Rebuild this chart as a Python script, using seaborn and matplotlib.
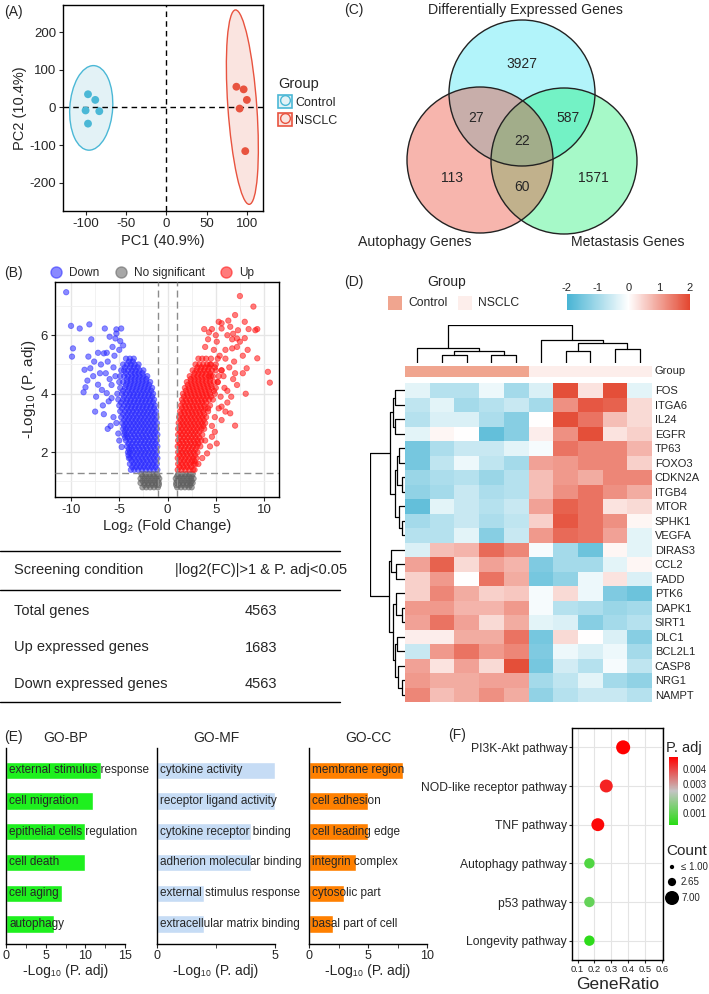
import numpy
import pandas
import matplotlib
matplotlib.use("Agg")
import matplotlib.pyplot as pyplot
import seaborn
from matplotlib.patches import Ellipse, Circle, Patch, Rectangle
from matplotlib.lines import Line2D
from matplotlib.colors import LinearSegmentedColormap, ListedColormap, Normalize
from matplotlib.cm import ScalarMappable
from matplotlib.legend_handler import HandlerTuple

# style
seaborn.set_style("white")
pyplot.rcParams["font.family"] = ["Liberation Sans", "DejaVu Sans"]
pyplot.rcParams["font.size"] = 8
pyplot.rcParams["axes.linewidth"] = 1.0
pyplot.rcParams["axes.edgecolor"] = "black"
pyplot.rcParams["axes.unicode_minus"] = False

#
# data
#

# (A) PCA
ctrl_pc1 = [-97, -88, -100, -83, -97]
ctrl_pc2 = [35, 20, -8, -10, -43]
nsclc_pc1 = [87, 96, 100, 91, 98]
nsclc_pc2 = [55, 48, 20, -3, -116]

# (B) volcano: dense rows (y, xs) and sparse points
down_rows = [
    (1.40, [-1.05, -1.45, -1.85, -2.25, -2.65, -3.05, -3.45, -3.8]),
    (1.50, [-1.25, -1.65, -2.05, -2.45, -2.85, -3.25, -3.65]),
    (1.60, [-1.1, -1.5, -1.9, -2.3, -2.7, -3.1, -3.5, -3.9]),
    (1.70, [-1.3, -1.7, -2.1, -2.5, -2.9, -3.3, -3.7]),
    (1.80, [-1.05, -1.45, -1.85, -2.25, -2.65, -3.05, -3.45, -3.85, -4.0]),
    (1.90, [-1.25, -1.65, -2.05, -2.45, -2.85, -3.25, -3.65, -4.05]),
    (2.00, [-1.1, -1.5, -1.9, -2.3, -2.7, -3.1, -3.5, -3.9, -4.1]),
    (2.10, [-1.3, -1.7, -2.1, -2.5, -2.9, -3.3, -3.7, -4.0]),
    (2.20, [-1.05, -1.45, -1.85, -2.25, -2.65, -3.05, -3.45, -3.85, -4.2]),
    (2.30, [-1.25, -1.65, -2.05, -2.45, -2.85, -3.25, -3.65, -4.05]),
    (2.40, [-1.1, -1.5, -1.9, -2.3, -2.7, -3.1, -3.5, -3.9, -4.3]),
    (2.50, [-1.3, -1.7, -2.1, -2.5, -2.9, -3.3, -3.7, -4.1, -4.4]),
    (2.60, [-1.05, -1.45, -1.85, -2.25, -2.65, -3.05, -3.45, -3.85, -4.25, -4.5]),
    (2.70, [-1.25, -1.65, -2.05, -2.45, -2.85, -3.25, -3.65, -4.05, -4.45]),
    (2.80, [-1.1, -1.5, -1.9, -2.3, -2.7, -3.1, -3.5, -3.9, -4.3, -4.6]),
    (2.90, [-1.3, -1.7, -2.1, -2.5, -2.9, -3.3, -3.7, -4.1, -4.5]),
    (3.00, [-1.1, -1.5, -1.9, -2.3, -2.7, -3.1, -3.5, -3.9, -4.3, -4.7]),
    (3.10, [-1.3, -1.7, -2.1, -2.5, -2.9, -3.3, -3.7, -4.1, -4.5]),
    (3.20, [-1.15, -1.55, -1.95, -2.35, -2.75, -3.15, -3.55, -3.95, -4.35, -4.8]),
    (3.30, [-1.35, -1.75, -2.15, -2.55, -2.95, -3.35, -3.75, -4.15, -4.6]),
    (3.40, [-1.2, -1.6, -2.0, -2.4, -2.8, -3.2, -3.6, -4.0, -4.4, -4.9]),
    (3.50, [-1.4, -1.8, -2.2, -2.6, -3.0, -3.4, -3.8, -4.2, -4.7]),
    (3.60, [-1.3, -1.7, -2.1, -2.5, -2.9, -3.3, -3.7, -4.1, -4.5, -5.0]),
    (3.70, [-1.5, -1.9, -2.3, -2.7, -3.1, -3.5, -3.9, -4.3, -4.8]),
    (3.80, [-1.4, -1.8, -2.2, -2.6, -3.0, -3.4, -3.8, -4.2, -4.6, -5.1]),
    (3.90, [-1.6, -2.0, -2.4, -2.8, -3.2, -3.6, -4.0, -4.5]),
    (4.00, [-1.5, -1.9, -2.3, -2.7, -3.1, -3.5, -3.9, -4.3, -4.7, -5.2]),
    (4.10, [-1.7, -2.1, -2.5, -2.9, -3.3, -3.7, -4.1, -4.6]),
    (4.20, [-1.6, -2.0, -2.4, -2.8, -3.2, -3.6, -4.0, -4.4, -4.9]),
    (4.30, [-1.9, -2.3, -2.7, -3.1, -3.5, -3.9, -4.3]),
    (4.40, [-1.8, -2.2, -2.6, -3.0, -3.4, -3.8, -4.2, -4.6, -5.0]),
    (4.50, [-2.2, -2.6, -3.0, -3.4, -3.8, -4.2]),
    (4.60, [-2.1, -2.5, -2.9, -3.3, -3.7, -4.1, -4.5, -4.9]),
    (4.70, [-2.6, -3.0, -3.4, -3.8, -4.3]),
    (4.80, [-2.5, -2.9, -3.3, -3.7, -4.1, -4.5, -4.8]),
    (4.90, [-3.1, -3.5, -3.9, -4.4]),
    (5.00, [-3.0, -3.4, -3.8, -4.2, -4.6]),
    (5.10, [-3.6, -4.0]),
    (5.20, [-3.5, -3.9, -4.3]),
]
up_rows = [
    (1.40, [1.05, 1.45, 1.85, 2.25, 2.65, 2.8]),
    (1.50, [1.25, 1.65, 2.05, 2.45]),
    (1.60, [1.1, 1.5, 1.9, 2.3, 2.7, 2.9]),
    (1.70, [1.3, 1.7, 2.1, 2.5, 2.8]),
    (1.80, [1.05, 1.45, 1.85, 2.25, 2.65, 3.0]),
    (1.90, [1.25, 1.65, 2.05, 2.45, 2.85]),
    (2.00, [1.1, 1.5, 1.9, 2.3, 2.7, 3.1]),
    (2.10, [1.3, 1.7, 2.1, 2.5, 2.9]),
    (2.20, [1.05, 1.45, 1.85, 2.25, 2.65, 3.05, 3.4]),
    (2.30, [1.25, 1.65, 2.05, 2.45, 2.85, 3.2]),
    (2.40, [1.1, 1.5, 1.9, 2.3, 2.7, 3.1, 3.5]),
    (2.50, [1.3, 1.7, 2.1, 2.5, 2.9, 3.3]),
    (2.60, [1.1, 1.5, 1.9, 2.3, 2.7, 3.1, 3.6]),
    (2.70, [1.3, 1.7, 2.1, 2.5, 2.9, 3.3]),
    (2.80, [1.1, 1.5, 1.9, 2.3, 2.7, 3.1, 3.5, 3.8]),
    (2.90, [1.3, 1.7, 2.1, 2.5, 2.9, 3.3, 3.7]),
    (3.00, [1.15, 1.55, 1.95, 2.35, 2.75, 3.15, 3.55, 3.9]),
    (3.10, [1.35, 1.75, 2.15, 2.55, 2.95, 3.35, 3.75]),
    (3.20, [1.2, 1.6, 2.0, 2.4, 2.8, 3.2, 3.6, 4.0]),
    (3.30, [1.4, 1.8, 2.2, 2.6, 3.0, 3.4, 3.8]),
    (3.40, [1.3, 1.7, 2.1, 2.5, 2.9, 3.3, 3.7, 4.2]),
    (3.50, [1.5, 1.9, 2.3, 2.7, 3.1, 3.5, 3.9]),
    (3.60, [1.4, 1.8, 2.2, 2.6, 3.0, 3.4, 3.8, 4.4]),
    (3.70, [1.6, 2.0, 2.4, 2.8, 3.2, 3.6, 4.0]),
    (3.80, [1.5, 1.9, 2.3, 2.7, 3.1, 3.5, 3.9, 4.3, 4.7]),
    (3.90, [1.7, 2.1, 2.5, 2.9, 3.3, 3.7, 4.1, 4.5]),
    (4.00, [1.6, 2.0, 2.4, 2.8, 3.2, 3.6, 4.0, 4.4, 4.9]),
    (4.10, [1.9, 2.3, 2.7, 3.1, 3.5, 3.9, 4.3]),
    (4.20, [1.8, 2.2, 2.6, 3.0, 3.4, 3.8, 4.2, 4.6, 5.0]),
    (4.30, [2.1, 2.5, 2.9, 3.3, 3.7, 4.1, 4.5]),
    (4.40, [2.0, 2.4, 2.8, 3.2, 3.6, 4.0, 4.4, 4.8, 5.2]),
    (4.50, [2.4, 2.8, 3.2, 3.6, 4.0, 4.4]),
    (4.60, [2.3, 2.7, 3.1, 3.5, 3.9, 4.3, 4.7, 5.3]),
    (4.70, [2.8, 3.2, 3.6, 4.0, 4.4]),
    (4.80, [2.6, 3.0, 3.4, 3.8, 4.2, 4.6, 5.0, 5.6]),
    (4.90, [3.1, 3.5, 3.9, 4.3]),
    (5.00, [2.9, 3.3, 3.7, 4.1, 4.5, 5.0]),
    (5.20, [3.2, 3.6, 4.0, 4.5, 5.2]),
]
ns_rows = [
    (0.80, [-2.6, -2.2, -1.8, -1.4, -1.0, 1.0, 1.4, 1.8, 2.2, 2.5]),
    (0.88, [-2.4, -2.0, -1.6, -1.2, -0.9, 0.9, 1.2, 1.6, 2.0, 2.35]),
    (0.95, [-2.8, -2.4, -2.0, -1.6, -1.2, -0.9, 0.9, 1.2, 1.6, 2.0, 2.4, 2.6]),
    (1.02, [-2.6, -2.2, -1.8, -1.4, -1.0, 1.0, 1.4, 1.8, 2.2, 2.5]),
    (1.10, [-2.8, -2.4, -2.0, -1.6, -1.2, -0.85, 0.85, 1.2, 1.6, 2.0, 2.4, 2.7]),
    (1.18, [-2.6, -2.2, -1.8, -1.4, -1.0, 1.0, 1.4, 1.8, 2.2, 2.5]),
    (1.25, [-2.7, -2.3, -1.9, -1.5, -1.1, 1.1, 1.5, 1.9, 2.3, 2.6]),
]
down_sparse = [
    (-10.5, 7.47), (-10.0, 6.32), (-9.1, 6.23), (-8.1, 6.37), (-6.5, 6.23),
    (-5.3, 6.2), (-4.8, 6.23), (-5.3, 6.06), (-4.6, 5.65), (-7.9, 5.86),
    (-9.8, 5.55), (-9.9, 5.27), (-8.2, 5.27), (-7.2, 5.4), (-6.6, 5.38),
    (-6.3, 5.4), (-6.0, 5.95), (-5.4, 5.89), (-8.6, 4.82), (-8.0, 4.87),
    (-8.5, 4.22), (-8.7, 4.05), (-7.5, 3.39), (-7.2, 4.31), (-6.8, 4.13),
    (-6.3, 4.02), (-6.1, 3.74), (-5.8, 3.85), (-5.1, 2.64), (-7.7, 4.6),
    (-7.0, 4.7), (-6.0, 4.5), (-5.6, 3.2), (-6.7, 3.6), (-5.9, 2.9),
    (-5.5, 5.3), (-4.75, 2.18), (-5.6, 4.9), (-6.2, 5.1),
    (-5.4, 4.6), (-5.8, 4.3), (-6.4, 4.7), (-5.7, 5.6), (-5.0, 5.5),
    (-6.9, 5.0), (-7.4, 3.9), (-6.6, 3.3), (-5.3, 3.0), (-5.0, 2.4),
    (-6.2, 2.8), (-4.9, 5.8), (-7.6, 5.1), (-8.3, 4.45),
]
up_sparse = [
    (7.5, 7.34), (8.9, 6.98), (7.0, 6.69), (5.3, 6.46), (5.6, 6.41),
    (3.8, 6.21), (4.6, 6.21), (5.6, 6.23), (6.5, 6.29), (7.3, 6.17),
    (8.4, 6.21), (9.1, 6.17), (9.3, 6.21), (8.0, 6.46), (6.2, 6.0),
    (6.8, 6.05), (4.2, 5.86), (5.1, 5.78), (6.7, 5.86), (7.2, 5.89),
    (7.5, 5.78), (6.7, 5.55), (7.2, 5.6), (8.3, 5.5), (9.3, 5.21),
    (8.2, 4.87), (7.8, 4.7), (7.0, 4.7), (10.4, 4.75), (10.6, 4.38),
    (8.1, 4.0), (7.2, 4.3), (6.8, 4.5), (5.6, 3.56), (6.0, 3.39),
    (6.5, 3.33), (7.0, 2.91), (5.1, 2.3), (4.6, 2.53), (4.1, 1.96),
    (6.0, 5.2), (6.4, 4.9), (5.8, 4.6), (6.2, 4.1), (5.5, 3.9),
    (4.9, 3.2), (4.6, 2.9), (3.9, 2.4), (3.6, 1.8), (3.2, 1.6),
    (4.8, 4.1), (5.2, 4.4), (5.6, 4.8), (6.0, 5.5), (5.4, 5.3),
    (4.8, 5.5), (4.4, 5.0), (5.9, 4.2), (6.6, 3.9), (5.3, 3.5),
    (4.9, 2.7), (4.4, 2.2), (5.6, 3.1), (6.2, 3.7), (4.2, 3.5),
    (4.5, 4.6), (3.9, 5.6), (4.3, 6.1), (7.8, 5.3), (8.0, 5.9),
    (6.9, 5.1), (5.0, 6.0), (6.3, 6.5), (4.9, 4.9),
]

# table under (B)
table_rows = ["Total genes", "Up expressed genes", "Down expressed genes"]
table_values = ["4563", "1683", "4563"]

# (C) venn counts
venn_sets = ["Differentially Expressed Genes", "Autophagy Genes", "Metastasis Genes"]
venn_counts = {"D": 3927, "A": 113, "M": 1571, "DA": 27, "DM": 587, "AM": 60, "DAM": 22}

# (D) heatmap
genes = ["FOS", "ITGA6", "IL24", "EGFR", "TP63", "FOXO3", "CDKN2A", "ITGB4", "MTOR",
         "SPHK1", "VEGFA", "DIRAS3", "CCL2", "FADD", "PTK6", "DAPK1", "SIRT1", "DLC1",
         "BCL2L1", "CASP8", "NRG1", "NAMPT"]
sample_groups = ["Control"] * 5 + ["NSCLC"] * 5
heat_values = [
    [-0.3, -0.8, -0.8, -0.2, -1.0, -0.4, 1.9, 0.3, 1.9, -0.3],
    [-0.7, -0.3, -1.0, -0.8, -0.6, -1.0, 1.2, 1.8, 1.7, 0.4],
    [-0.8, -0.4, -0.4, -0.9, -1.3, 0.0, 1.9, 1.5, 0.7, 0.4],
    [-0.3, 0.1, 0.0, -1.7, -1.3, 0.2, 1.2, 1.9, 0.3, 0.5],
    [-1.5, -0.9, -0.6, -0.6, -0.3, -0.1, 1.5, 1.3, 1.3, 0.8],
    [-1.5, -0.7, -0.2, -0.7, -1.0, 1.0, 1.1, 1.3, 1.3, 0.5],
    [-1.1, -0.9, -0.8, -1.1, -0.8, 0.7, 1.1, 0.9, 1.3, 1.3],
    [-1.2, -1.0, -0.6, -0.9, -0.8, 0.7, 1.2, 1.5, 1.2, 0.9],
    [-1.7, -0.3, -0.6, -0.8, -0.6, 1.0, 1.7, 1.5, 0.3, 0.4],
    [-1.0, -0.8, -0.6, -0.9, -0.7, 0.5, 1.8, 1.5, 1.2, 0.1],
    [-0.8, -0.8, -0.3, -1.3, -0.6, 1.1, 1.6, 1.5, 1.0, -0.3],
    [-0.4, 0.7, 0.8, 1.6, 1.3, -0.1, -1.0, -1.6, 0.1, -0.3],
    [1.0, 1.7, 0.4, 1.0, 0.8, -1.4, -1.0, -1.0, -0.3, 0.1],
    [0.5, 1.1, 0.0, 1.5, 0.9, -1.5, -1.2, -0.2, 0.3, -0.4],
    [0.5, 1.3, 0.9, 0.5, 0.6, -0.1, 0.4, -0.2, -1.4, -1.6],
    [1.1, 1.1, 0.8, 0.8, 1.1, -0.1, -0.8, -0.9, -1.1, -1.0],
    [1.0, 1.5, 1.0, 0.4, 0.9, -0.3, -0.4, -1.3, -1.0, -0.8],
    [0.2, 0.2, 0.9, 0.9, 1.5, -1.5, 0.4, 0.0, -0.4, -1.3],
    [-0.6, 1.1, 1.5, 1.1, 1.3, -1.4, -0.2, -0.4, -0.2, -1.0],
    [1.0, 0.3, 1.0, 0.4, 1.9, -1.5, -0.5, -0.8, -0.1, -0.7],
    [1.1, 0.9, 0.9, 1.0, 1.0, -1.0, -0.7, -0.3, -1.0, -1.2],
    [1.3, 0.7, 0.9, 1.2, 0.9, -1.2, -0.8, -0.6, -0.6, -0.8],
]
# dendrograms as (left, right, height); ints are leaves
col_tree = ((0, ((1, 2, 25), (3, 4, 25), 36), 43), (5, ((6, 7, 36), (8, 9, 40), 60), 68), 111)
row_tree = (
    (((0, 1, 2.8), (2, 3, 2.8), 3.6),
     (((4, 5, 1.6), (6, 7, 0.8), 2.2), (8, (9, 10, 0.8), 1.8), 2.8), 4.2),
    ((11, (12, 13, 2.6), 4.0),
     ((14, (15, 16, 1.0), 2.6), ((17, 18, 2.4), (19, (20, 21, 1.0), 2.0), 3.0), 3.6), 4.6),
    10,
)

# (E) GO enrichment
bp_terms = ["external stimulus response", "cell migration", "epithelial cells regulation",
            "cell death", "cell aging", "autophagy"]
bp_values = [12, 11, 10, 10, 7, 6]
mf_terms = ["cytokine activity", "receptor ligand activity", "cytokine receptor binding",
            "adherion molecular binding", "external stimulus response",
            "extracellular matrix binding"]
mf_values = [5, 5, 4, 4, 2, 2]
cc_terms = ["membrane region", "cell adhesion", "cell leading edge", "integrin complex",
            "cytosolic part", "basal part of cell"]
cc_values = [8, 5, 5, 4, 3, 2]

# (F) KEGG dot plot
pathways = ["PI3K-Akt pathway", "NOD-like receptor pathway", "TNF pathway",
            "Autophagy pathway", "p53 pathway", "Longevity pathway"]
gene_ratio = [0.37, 0.27, 0.22, 0.17, 0.17, 0.17]
padj = [0.0048, 0.0044, 0.0047, 0.0008, 0.0011, 0.0003]
counts = [7, 6, 6, 4, 4, 4]

#
# figure
#

W, H = 709, 994
fig = pyplot.figure(figsize=(W / 100, H / 100), dpi=100)


def box(l, t, r, b):
    return [l / W, 1 - b / H, (r - l) / W, (b - t) / H]


# overlay in pixel coordinates for texts, table and venn
ov = fig.add_axes([0, 0, 1, 1])
ov.set_xlim(0, W)
ov.set_ylim(H, 0)
ov.axis("off")

for lab, x, y in [("(A)", 4, 12), ("(B)", 4, 273), ("(C)", 344, 10),
                  ("(D)", 344, 282), ("(E)", 4, 737), ("(F)", 448, 735)]:
    ov.text(x, y, lab, fontsize=10, va="center", ha="left")

#
# (A) PCA
#

ctrl_col, nsclc_col = "#4bb8d6", "#e8533f"
axA = fig.add_axes(box(63, 5, 263, 211))
pca = pandas.DataFrame({
    "PC1": ctrl_pc1 + nsclc_pc1,
    "PC2": ctrl_pc2 + nsclc_pc2,
    "Group": ["Control"] * len(ctrl_pc1) + ["NSCLC"] * len(nsclc_pc1),
})
for grp, col, fill in [("Control", ctrl_col, "#e3f2f6"), ("NSCLC", nsclc_col, "#fae4e0")]:
    sub = pca[pca["Group"] == grp]
    cov = numpy.cov(sub["PC1"], sub["PC2"])
    vals, vecs = numpy.linalg.eigh(cov)
    scale = numpy.sqrt(2 * 6.944)  # 95% level, F(2, n-1)
    angle = numpy.degrees(numpy.arctan2(vecs[1, 1], vecs[0, 1]))
    ell = Ellipse((sub["PC1"].mean(), sub["PC2"].mean()),
                  2 * scale * numpy.sqrt(vals[1]), 2 * scale * numpy.sqrt(vals[0]),
                  angle=angle, facecolor=fill, edgecolor=col, lw=1.0, zorder=1)
    axA.add_patch(ell)
axA.axhline(0, color="black", ls=(0, (4, 3)), lw=1, zorder=2)
axA.axvline(0, color="black", ls=(0, (4, 3)), lw=1, zorder=2)
seaborn.scatterplot(data=pca, x="PC1", y="PC2", hue="Group",
                    palette={"Control": ctrl_col, "NSCLC": nsclc_col},
                    s=32, edgecolor="none", legend=False, ax=axA, zorder=3)
axA.set_xlim(-128, 120)
axA.set_ylim(-275, 272)
axA.set_xticks([-100, -50, 0, 50, 100])
axA.set_yticks([-200, -100, 0, 100, 200])
axA.tick_params(labelsize=9.5, length=3, direction="out", left=True, bottom=True, pad=2)
axA.set_xlabel("PC1 (40.9%)", fontsize=10.5, labelpad=3)
axA.set_ylabel("PC2 (10.4%)", fontsize=10.5, labelpad=2)
handles = [
    (Patch(facecolor="#e3f2f6", edgecolor=ctrl_col, lw=1.2),
     Line2D([], [], marker="o", ls="", mfc="none", mec=ctrl_col, ms=7)),
    (Patch(facecolor="#fae4e0", edgecolor=nsclc_col, lw=1.2),
     Line2D([], [], marker="o", ls="", mfc="none", mec=nsclc_col, ms=7)),
]
leg = axA.legend(handles, ["Control", "NSCLC"], title="Group", loc="center left",
                 bbox_to_anchor=(1.02, 0.53), frameon=False,
                 handler_map={tuple: HandlerTuple(ndivide=1, pad=0)},
                 handlelength=1.1, handleheight=1.3, handletextpad=0.25,
                 labelspacing=0.3, fontsize=9, title_fontsize=10.5)
leg._legend_box.align = "left"

#
# (B) volcano
#


def expand(rows, label):
    out = []
    for y, xs in rows:
        for x in xs:
            out.append((x, y, label))
    return out


points = (expand(down_rows, "Down") + [(x, y, "Down") for x, y in down_sparse]
          + expand(ns_rows, "No significant")
          + expand(up_rows, "Up") + [(x, y, "Up") for x, y in up_sparse])
volcano = pandas.DataFrame(points, columns=["log2FC", "logP", "Change"])
change_pal = {"Down": "#2a2aff", "No significant": "#606060", "Up": "#ff1010"}

axB = fig.add_axes(box(55, 282, 279, 497))
axB.set_axisbelow(True)
axB.set_xticks([-7.5, -2.5, 2.5, 7.5], minor=True)
axB.set_yticks([1, 3, 5, 7], minor=True)
axB.grid(True, which="major", color="#e6e6e6", lw=1.0)
axB.grid(True, which="minor", color="#f0f0f0", lw=0.6)
seaborn.scatterplot(data=volcano, x="log2FC", y="logP", hue="Change", palette=change_pal,
                    s=15, alpha=0.55, linewidth=0.6, edgecolor="face", legend=False,
                    ax=axB, zorder=2)
axB.axvline(-1, color="#8c8c8c", ls=(0, (5, 3)), lw=1, zorder=3)
axB.axvline(1, color="#8c8c8c", ls=(0, (5, 3)), lw=1, zorder=3)
axB.axhline(1.3, color="#8c8c8c", ls=(0, (5, 3)), lw=1, zorder=3)
axB.set_xlim(-11.66, 11.55)
axB.set_ylim(0.47, 7.82)
axB.set_xticks([-10, -5, 0, 5, 10])
axB.set_yticks([2, 4, 6])
axB.tick_params(which="major", labelsize=9.5, length=3, direction="out", left=True,
                bottom=True, pad=2)
axB.tick_params(which="minor", length=0)
axB.set_xlabel("Log\u2082 (Fold Change)", fontsize=10.5, labelpad=2)
axB.set_ylabel("-Log$_{10}$ (P. adj)", fontsize=11, labelpad=2)
vol_handles = [Line2D([], [], marker="o", ls="", ms=8, mfc=change_pal[k], mec=change_pal[k],
                      alpha=0.55) for k in change_pal]
axB.legend(vol_handles, list(change_pal), loc="lower center", bbox_to_anchor=(0.42, 0.985),
           ncol=3, frameon=False, handletextpad=0.1, columnspacing=0.8, fontsize=8.5,
           borderaxespad=0.1)

#
# table
#

for y in [551, 590, 702]:
    ov.plot([0, 340], [y, y], color="black", lw=1.0)
ov.text(14, 570, "Screening condition", fontsize=10.5, va="center")
ov.text(175, 570, "|log2(FC)|>1 & P. adj<0.05", fontsize=10.5, va="center")
for i, (name, val) in enumerate(zip(table_rows, table_values)):
    y = 611 + i * 36.5
    ov.text(14, y, name, fontsize=10.5, va="center")
    ov.text(261, y, val, fontsize=10.5, va="center", ha="center")

#
# (C) venn
#

r = 73
venn_geo = {"D": (522, 93), "A": (480, 160), "M": (564, 161)}
venn_fill = {"D": ((0, 220, 240), 0.3), "M": ((0, 240, 100), 0.35), "A": ((235, 70, 50), 0.4)}
for key in ["D", "M", "A"]:
    rgb, a = venn_fill[key]
    ov.add_patch(Circle(venn_geo[key], r, facecolor=numpy.array(rgb) / 255, alpha=a,
                        edgecolor="none"))
for key in ["D", "M", "A"]:
    ov.add_patch(Circle(venn_geo[key], r, facecolor="none", edgecolor="#222222", lw=1.0))
venn_text_pos = {"D": (522, 64), "DA": (476, 118), "DM": (568, 118), "DAM": (522, 141),
                 "A": (452, 178), "AM": (522, 187), "M": (593, 178)}
for key, (x, y) in venn_text_pos.items():
    ov.text(x, y, str(venn_counts[key]), fontsize=10, ha="center", va="center")
ov.text(525, 10, venn_sets[0], fontsize=10.2, ha="center", va="center")
ov.text(415, 242, venn_sets[1], fontsize=10.2, ha="center", va="center")
ov.text(628, 242, venn_sets[2], fontsize=10.2, ha="center", va="center")

#
# (D) heatmap
#

heat_cmap = LinearSegmentedColormap.from_list("bwr2", ["#48b4d4", "#ffffff", "#e3462f"])
grp_colors = {"Control": "#f0a58f", "NSCLC": "#fdeeeb"}
heat_df = pandas.DataFrame(heat_values, index=genes)

axD = fig.add_axes(box(405, 383, 652, 702))
seaborn.heatmap(heat_df, cmap=heat_cmap, vmin=-2, vmax=2, cbar=False, ax=axD,
                xticklabels=False, yticklabels=True)
axD.yaxis.tick_right()
axD.tick_params(axis="y", length=0, labelsize=8, pad=2)
for t in axD.get_yticklabels():
    t.set_rotation(0)

axG = fig.add_axes(box(405, 366, 652, 377))
grp_codes = [[0 if g == "Control" else 1 for g in sample_groups]]
seaborn.heatmap(pandas.DataFrame(grp_codes), cmap=ListedColormap(list(grp_colors.values())),
                vmin=0, vmax=1, cbar=False, ax=axG, xticklabels=False, yticklabels=False)
axG.text(1.01, 0.5, "Group", transform=axG.transAxes, fontsize=8, va="center")


def draw_tree(ax, node, orient):
    if isinstance(node, int):
        return node + 0.5, 0.0
    left, right, h = node
    p1, h1 = draw_tree(ax, left, orient)
    p2, h2 = draw_tree(ax, right, orient)
    if orient == "top":
        ax.plot([p1, p1, p2, p2], [h1, h, h, h2], color="black", lw=0.9)
    else:
        ax.plot([h1, h, h, h2], [p1, p1, p2, p2], color="black", lw=0.9)
    return (p1 + p2) / 2, h


axCD = fig.add_axes(box(405, 325, 652, 363))
draw_tree(axCD, col_tree, "top")
axCD.set_xlim(0, 10)
axCD.set_ylim(0, 112)
axCD.axis("off")

axRD = fig.add_axes(box(370, 383, 405, 702))
draw_tree(axRD, row_tree, "left")
axRD.set_ylim(22, 0)
axRD.set_xlim(10.1, 0)
axRD.axis("off")

# group legend + colour key
ov.text(447, 282, "Group", fontsize=10, ha="center", va="center")
for (name, col), x in zip(grp_colors.items(), [388, 458]):
    ov.add_patch(Rectangle((x, 296), 14, 14, facecolor=col, edgecolor="none"))
    ov.text(x + 20, 303, name, fontsize=8.7, va="center")
caxD = fig.add_axes(box(567, 294, 690, 310))
cbD = fig.colorbar(ScalarMappable(Normalize(-2, 2), heat_cmap), cax=caxD,
                   orientation="horizontal", ticks=[-2, -1, 0, 1, 2])
cbD.outline.set_visible(False)
caxD.xaxis.set_ticks_position("top")
caxD.tick_params(axis="x", direction="in", color="white", length=3, width=1,
                 labelsize=8, pad=1)

#
# (E) GO bars
#

go_panels = [
    ("GO-BP", bp_terms, bp_values, "#1ef01e", (6, 125), 15, [0, 5, 10, 15]),
    ("GO-MF", mf_terms, mf_values, "#c6dcf5", (157, 275), 5, [0, 5]),
    ("GO-CC", cc_terms, cc_values, "#ff8000", (309, 427), 10, [0, 5, 10]),
]
for title, terms, vals, col, (l, r_), xmax, ticks in go_panels:
    ax = fig.add_axes(box(l, 748, r_, 944))
    seaborn.barplot(x=vals, y=terms, orient="h", color=col, saturation=1, width=0.56, ax=ax)
    for i, term in enumerate(terms):
        ax.annotate(term, xy=(0, i), xytext=(2.5, 0), textcoords="offset points",
                    va="center", ha="left", fontsize=8.5)
    ax.set_ylim(5.65, -0.72)
    ax.set_xlim(0, xmax)
    ax.set_xticks(ticks)
    ax.set_xticks(numpy.arange(0, xmax + 0.01, 2.5), minor=True)
    ax.set_yticks([])
    ax.set_ylabel("")
    ax.spines[["top", "right"]].set_visible(False)
    ax.tick_params(axis="x", which="both", length=3, direction="out", labelsize=9,
                   bottom=True, pad=1)
    ax.set_xlabel("-Log\u2081\u2080 (P. adj)", fontsize=10, labelpad=2)
    ax.set_title(title, fontsize=10, pad=4)

#
# (F) KEGG dots
#

padj_cmap = LinearSegmentedColormap.from_list(
    "padj", [(0.0, "#28dc14"), (0.5, "#c4c4c4"), (1.0, "#ff0000")])
padj_norm = Normalize(0.0002, 0.0048)
axF = fig.add_axes(box(572, 728, 663, 960))
axF.set_axisbelow(True)
axF.grid(True, color="#e4e4e4", lw=0.8)
kegg = pandas.DataFrame({"ratio": gene_ratio, "pos": range(len(pathways)),
                         "padj": padj, "count": counts})
seaborn.scatterplot(data=kegg, x="ratio", y="pos", hue="padj", size="count",
                    palette=padj_cmap, hue_norm=padj_norm, sizes=(9.6, 102),
                    size_norm=(1, 7), edgecolor="none", legend=False, ax=axF, zorder=3)
axF.set_ylim(len(pathways) - 0.5, -0.5)
axF.set_yticks(range(len(pathways)))
axF.set_yticklabels(pathways)
axF.set_xlim(0.067, 0.606)
axF.set_xticks([0.1, 0.2, 0.3, 0.4, 0.5, 0.6])
axF.set_xticklabels(["0.1", "0.2", "0.3", "0.4", "0.5", "0.6"])
axF.tick_params(axis="y", labelsize=8.7, length=2.5, left=True, pad=1)
axF.tick_params(axis="x", labelsize=6.8, length=2.5, bottom=True, pad=1)
axF.set_xlabel("GeneRatio", fontsize=12.5, labelpad=2)
axF.set_ylabel("")

caxF = fig.add_axes(box(669, 757, 678, 825))
cbF = fig.colorbar(ScalarMappable(padj_norm, padj_cmap), cax=caxF,
                   ticks=[0.001, 0.002, 0.003, 0.004])
cbF.outline.set_visible(False)
caxF.set_yticklabels(["0.001", "0.002", "0.003", "0.004"])
caxF.tick_params(axis="y", labelsize=7, length=2, color="white", pad=1)
ov.text(666, 748, "P. adj", fontsize=10.5, va="center")
ov.text(666, 851, "Count", fontsize=11, va="center")
for c_val, lab, y in [(1, "\u2264 1.00", 867), (2.65, "2.65", 882), (7, "7.00", 898)]:
    s = 9.6 + (c_val - 1) / 6 * (102 - 9.6)
    ov.scatter([672], [y], s=s, color="black", edgecolor="none")
    ov.text(681, y, lab, fontsize=7, va="center")

fig.savefig("out.png", dpi=100)
